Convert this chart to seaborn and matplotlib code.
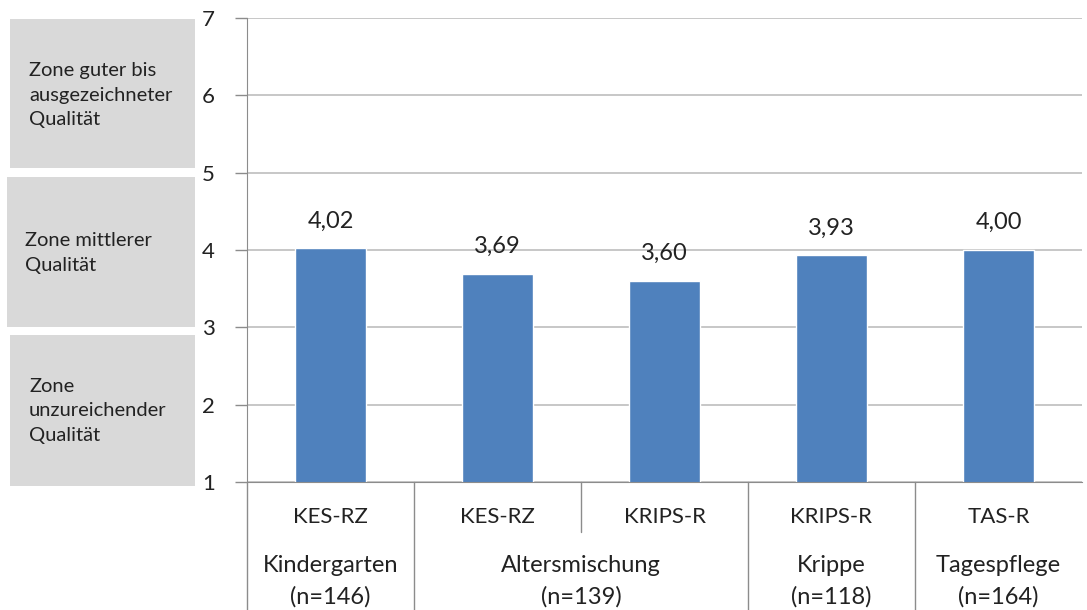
import matplotlib.pyplot as plt
import matplotlib.patches as mpatches
import matplotlib.transforms as mtransforms
import pandas as pd
import seaborn as sns

# data
instruments = ["KES-RZ", "KES-RZ", "KRIPS-R", "KRIPS-R", "TAS-R"]
scores = [4.02, 3.69, 3.60, 3.93, 4.00]
groups = ["Kindergarten", "Altersmischung", "Krippe", "Tagespflege"]
group_n = [146, 139, 118, 164]
group_span = [1, 2, 1, 1]
zones = ["Zone guter bis\nausgezeichneter\nQualität",
         "Zone mittlerer\nQualität",
         "Zone\nunzureichender\nQualität"]
y_ticks = [1, 2, 3, 4, 5, 6, 7]


def main():
    sns.set_style("white")
    plt.rcParams["font.family"] = ["Lato", "DejaVu Sans"]

    W, H = 1087, 610
    fig = plt.figure(figsize=(W / 100, H / 100), dpi=100)
    # axes in pixel terms: x 247..1082, y 18..482
    ax = fig.add_axes([247 / W, 1 - 482 / H, 835 / W, 464 / H])

    data = pd.DataFrame({"slot": [str(i) for i in range(len(scores))], "score": scores})
    sns.barplot(data=data, x="slot", y="score", color="#4F81BD", saturation=1,
                width=0.42, ax=ax, errorbar=None)

    ax.set_ylim(1, 7)
    ax.set_xlim(-0.5, len(scores) - 0.5)
    ax.set_yticks(y_ticks)
    ax.set_yticklabels([str(t) for t in y_ticks], fontsize=16, color="#222222")
    ax.yaxis.grid(True, color="#BEBEBE", linewidth=1.2)
    ax.set_axisbelow(True)
    ax.set_xticks([])
    ax.set_xlabel("")
    ax.set_ylabel("")
    for side in ["top", "right"]:
        ax.spines[side].set_visible(False)
    ax.spines["left"].set_color("#8C8C8C")
    ax.spines["bottom"].set_color("#8C8C8C")
    ax.tick_params(axis="y", which="both", left=True, length=9, width=1,
                   color="#8C8C8C", pad=14)

    # value labels above bars
    for i, v in enumerate(scores):
        ax.annotate(f"{v:.2f}".replace(".", ","), (i, v), xytext=(0, 12),
                    textcoords="offset points", ha="center", va="bottom",
                    fontsize=17, color="#222222")

    # category table below the axis
    trans = mtransforms.blended_transform_factory(ax.transData, ax.transAxes)
    px = 1 / 464  # one pixel in axes-y units
    for i, name in enumerate(instruments):
        ax.text(i, -35 * px, name, transform=trans, ha="center", va="center",
                fontsize=16, color="#222222")

    start = 0
    for g, n, span in zip(groups, group_n, group_span):
        centre = start + (span - 1) / 2
        ax.text(centre, -83 * px, g, transform=trans, ha="center", va="center",
                fontsize=17, color="#222222")
        ax.text(centre, -115 * px, f"(n={n})", transform=trans, ha="center",
                va="center", fontsize=17, color="#222222")
        start += span

    # left axis line continues down through the table
    ax.plot([-0.5, -0.5], [0, -130 * px], transform=trans, color="#8C8C8C",
            linewidth=1, clip_on=False)
    start = 0
    for span in group_span:
        # short divider inside a group
        for k in range(1, span):
            ax.plot([start + k - 0.5] * 2, [0, -50 * px], transform=trans,
                    color="#8C8C8C", linewidth=1, clip_on=False)
        start += span
        if start < len(scores):
            ax.plot([start - 0.5] * 2, [0, -130 * px], transform=trans,
                    color="#8C8C8C", linewidth=1, clip_on=False)

    # grey zone boxes on the left
    boxes = [(10, 19, 185, 149), (7, 177, 188, 150), (10, 335, 185, 151)]
    text_pos = [(29, 95), (25, 253), (29, 411)]
    for (x0, y0, w, h), (tx, ty), label in zip(boxes, text_pos, zones):
        fig.patches.append(mpatches.Rectangle((x0 / W, 1 - (y0 + h) / H), w / W, h / H,
                                              transform=fig.transFigure,
                                              facecolor="#D9D9D9", edgecolor="none"))
        fig.text(tx / W, 1 - ty / H, label, ha="left", va="center", fontsize=14.5,
                 color="#222222", linespacing=1.55)

    plt.savefig("out.png", dpi=100)


if __name__ == "__main__":
    main()
